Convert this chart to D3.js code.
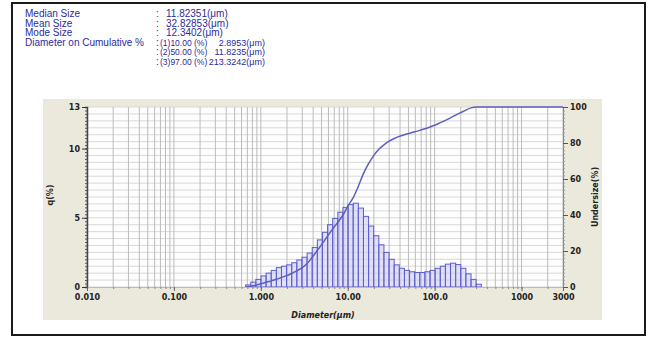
<!DOCTYPE html>
<html><head><meta charset="utf-8">
<script src="https://cdn.jsdelivr.net/npm/d3@7"></script>
<style>
html,body{margin:0;padding:0;background:#fff;}
svg{display:block;}
</style></head>
<body>
<svg id="chart" width="651" height="338"></svg>
<script>
// Particle size distribution: frequency q(%) per channel and cumulative undersize(%)

const summaryLabels = ["Median Size", "Mean Size", "Mode Size", "Diameter on Cumulative %"];
const summaryValues = ["11.82351(μm)", "32.82853(μm)", "12.3402(μm)"];
const cumulativePoints = ["(1)10.00 (%)", "(2)50.00 (%)", "(3)97.00 (%)"];
const cumulativeDiameters = ["2.8953(μm)", "11.8235(μm)", "213.3242(μm)"];

// channel boundaries (μm)
const channelSizes = [0.669, 0.766, 0.877, 1.005, 1.151, 1.318, 1.510, 1.729, 1.981, 2.269,
  2.599, 2.976, 3.409, 3.905, 4.472, 5.122, 5.867, 6.720, 7.697, 8.816,
  10.097, 11.565, 13.246, 15.172, 17.377, 19.904, 22.797, 26.111, 29.907, 34.255,
  39.234, 44.938, 51.471, 58.953, 67.523, 77.339, 88.583, 101.46, 116.21, 133.10,
  152.45, 174.62, 200.00, 229.07, 262.37, 300.52, 344.21];

// q(%) of each channel
const frequency = [0.15, 0.35, 0.55, 0.8, 1.0, 1.2, 1.4, 1.5, 1.6, 1.75,
  1.95, 2.15, 2.45, 2.85, 3.4, 3.95, 4.5, 4.95, 5.4, 5.75,
  5.95, 6.05, 5.7, 5.1, 4.4, 3.7, 3.05, 2.5, 2.0, 1.6,
  1.35, 1.2, 1.1, 1.05, 1.05, 1.1, 1.2, 1.35, 1.5, 1.65,
  1.72, 1.62, 1.35, 0.95, 0.55, 0.2];

// cumulative undersize (%) at each size
const undersizeSizes = [0.669, 0.766, 0.877, 1.005, 1.151, 1.318, 1.510, 1.729, 1.981, 2.269,
  2.599, 2.976, 3.409, 3.905, 4.472, 5.122, 5.867, 6.720, 7.697, 8.816,
  10.097, 11.565, 13.246, 15.172, 17.377, 19.904, 22.797, 26.111, 29.907, 34.255,
  39.234, 44.938, 51.471, 58.953, 67.523, 77.339, 88.583, 101.46, 116.21, 133.10,
  152.45, 174.62, 200.00, 229.07, 262.37, 300.52, 344.21, 3000];
const undersize = [0, 0.4, 1.0, 1.8, 2.6, 3.4, 4.3, 5.3, 6.3, 7.6,
  9.0, 10.6, 13.0, 16.5, 20.3, 24.2, 28.3, 32.3, 36.0, 40.0,
  45.2, 49.6, 56.0, 63.0, 68.5, 73.0, 76.5, 79.0, 81.0, 82.5,
  83.7, 84.6, 85.4, 86.2, 87.0, 87.9, 88.9, 90.0, 91.3, 92.6,
  94.0, 95.5, 96.9, 98.3, 99.5, 100, 100, 100];

const xTickValues = [0.01, 0.1, 1, 10, 100, 1000, 3000];
const xTickLabels = ["0.010", "0.100", "1.000", "10.00", "100.0", "1000", "3000"];
const yLeftTicks = [0, 5, 10, 13];
const yRightTicks = [0, 20, 40, 60, 80, 100];

const svg = d3.select("#chart");
const plot = {left: 87, right: 563, top: 107, bottom: 287};

const x = d3.scaleLog().domain([0.01, 3000]).range([plot.left, plot.right]);
const yL = d3.scaleLinear().domain([0, 13]).range([plot.bottom, plot.top]);
const yR = d3.scaleLinear().domain([0, 100]).range([plot.bottom, plot.top]);

// outer frame
svg.append("rect").attr("x", 12).attr("y", 3).attr("width", 633).attr("height", 332)
  .attr("fill", "#fff").attr("stroke", "#1a1a1a").attr("stroke-width", 2);

// summary text block
const txt = svg.append("g").attr("font-family", "Liberation Sans, Arial, sans-serif")
  .attr("font-size", 10).attr("fill", "#2b2b9c");
const rowY = [17, 26.5, 36, 45.5, 55, 64.5];
summaryLabels.forEach((s, i) => {
  txt.append("text").attr("x", 25).attr("y", rowY[i]).text(s);
});
rowY.forEach(yy => txt.append("text").attr("x", 156).attr("y", yy).text(":"));
summaryValues.forEach((s, i) => {
  txt.append("text").attr("x", 166).attr("y", rowY[i]).text(s);
});
cumulativePoints.forEach((s, i) => {
  txt.append("text").attr("x", 160).attr("y", rowY[3 + i]).attr("font-size", 8.5).text(s);
  txt.append("text").attr("x", 265).attr("y", rowY[3 + i]).attr("font-size", 9)
    .attr("text-anchor", "end").text(cumulativeDiameters[i]);
});

// chart panel
svg.append("rect").attr("x", 43).attr("y", 99).attr("width", 559).attr("height", 221)
  .attr("fill", "#ebe8dc");
svg.append("rect").attr("x", plot.left).attr("y", plot.top)
  .attr("width", plot.right - plot.left).attr("height", plot.bottom - plot.top)
  .attr("fill", "#fdfdfd");

// grid
const grid = svg.append("g");
grid.selectAll("line.h").data(d3.range(0, 13.01, 0.5)).join("line")
  .attr("x1", plot.left).attr("x2", plot.right)
  .attr("y1", d => yL(d)).attr("y2", d => yL(d))
  .attr("stroke", "#d9d9d9").attr("stroke-width", 1);
grid.selectAll("line.v").data(x.ticks()).join("line")
  .attr("x1", d => x(d)).attr("x2", d => x(d))
  .attr("y1", plot.top).attr("y2", plot.bottom)
  .attr("stroke", "#bcbcbc").attr("stroke-width", 1);

// frequency histogram
const bars = svg.append("g");
bars.selectAll("rect").data(frequency).join("rect")
  .attr("x", (d, i) => x(channelSizes[i]))
  .attr("width", (d, i) => x(channelSizes[i + 1]) - x(channelSizes[i]))
  .attr("y", d => yL(d))
  .attr("height", d => plot.bottom - yL(d))
  .attr("fill", "#c4c4f0").attr("fill-opacity", 0.5)
  .attr("stroke", "#5c5cd0").attr("stroke-width", 1);

// cumulative undersize curve
const line = d3.line()
  .x((d, i) => x(undersizeSizes[i]))
  .y(d => yR(d))
  .curve(d3.curveMonotoneX);
svg.append("path").datum(undersize).attr("d", line)
  .attr("fill", "none").attr("stroke", "#5e5ec0").attr("stroke-width", 1.5);

// axes
const tickFont = g => g.selectAll("text")
  .attr("font-family", "DejaVu Sans, sans-serif").attr("font-size", 8)
  .attr("font-weight", "bold").attr("fill", "#222");

const leftMinor = svg.append("g").attr("transform", `translate(${plot.left},0)`)
  .call(d3.axisLeft(yL).tickValues(d3.range(0, 13.01, 0.25)).tickSize(2).tickFormat(""));
leftMinor.selectAll("line").attr("stroke", "#555");
leftMinor.select(".domain").attr("stroke", "#444").attr("stroke-width", 1.5);
const left = svg.append("g").attr("transform", `translate(${plot.left},0)`)
  .call(d3.axisLeft(yL).tickValues(yLeftTicks).tickSize(5).tickPadding(2));
left.select(".domain").remove();
left.selectAll("line").attr("stroke", "#333");
left.call(tickFont);

const rightMinor = svg.append("g").attr("transform", `translate(${plot.right},0)`)
  .call(d3.axisRight(yR).tickValues(d3.range(0, 100.1, 2)).tickSize(2).tickFormat(""));
rightMinor.selectAll("line").attr("stroke", "#999");
rightMinor.select(".domain").attr("stroke", "#888");
const right = svg.append("g").attr("transform", `translate(${plot.right},0)`)
  .call(d3.axisRight(yR).tickValues(yRightTicks).tickSize(5).tickPadding(2));
right.select(".domain").remove();
right.selectAll("line").attr("stroke", "#555");
right.call(tickFont);

const bottomMinor = svg.append("g").attr("transform", `translate(0,${plot.bottom})`)
  .call(d3.axisBottom(x).tickValues(x.ticks()).tickSize(2).tickFormat(""));
bottomMinor.select(".domain").attr("stroke", "#bbb");
bottomMinor.selectAll("line").attr("stroke", "#888");
const bottom = svg.append("g").attr("transform", `translate(0,${plot.bottom})`)
  .call(d3.axisBottom(x).tickValues(xTickValues).tickSize(4).tickPadding(3)
    .tickFormat((d, i) => xTickLabels[i]));
bottom.select(".domain").remove();
bottom.selectAll("line").attr("stroke", "#666");
bottom.call(tickFont);

// axis titles
const titles = svg.append("g").attr("font-family", "DejaVu Sans, sans-serif")
  .attr("font-size", 8).attr("font-weight", "bold").attr("fill", "#222");
titles.append("text").attr("x", 323).attr("y", 318).attr("text-anchor", "middle")
  .attr("font-style", "italic").text("Diameter(μm)");
titles.append("text").attr("transform", "translate(53,195) rotate(-90)")
  .attr("text-anchor", "middle").text("q(%)");
titles.append("text").attr("transform", "translate(598,197) rotate(-90)")
  .attr("text-anchor", "middle").text("Undersize(%)");
</script>
</body></html>
